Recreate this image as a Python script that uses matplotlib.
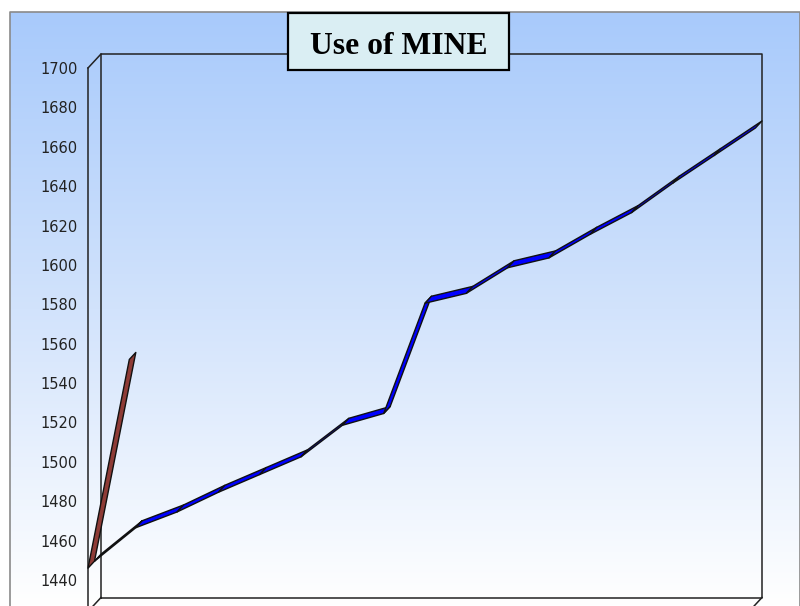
import numpy as np
import matplotlib.pyplot as plt
from matplotlib.colors import LinearSegmentedColormap
from matplotlib.patches import Rectangle

# yearly figures for the two series
mine_main = [1446, 1463, 1471, 1481, 1490, 1499, 1515, 1521, 1577,
             1582, 1595, 1600, 1612, 1623, 1638, 1652, 1666]
mine_other = [1446, 1552]
y_ticks = list(range(1440, 1701, 20))
chart_title = 'Use of MINE'

y_low, y_high = 1424, 1700
n_cat = len(mine_main)

fig = plt.figure(figsize=(8, 6.06), dpi=100)

# blue-to-white chart area fill
bg = fig.add_axes([10 / 800, 0, 790 / 800, 594 / 606])
grad = np.linspace(0, 1, 256).reshape(-1, 1)
cmap = LinearSegmentedColormap.from_list('area', ['#A8CAFB', '#D2E3FC', '#FFFFFF'])
bg.imshow(grad, aspect='auto', cmap=cmap, extent=[0, 1, 0, 1], origin='upper')
bg.plot([0, 0, 1, 1], [0, 1, 1, 0], transform=bg.transAxes,
        color='#8a8a8a', lw=1.2, clip_on=False)
bg.set_axis_off()

# front plane of the 3-d box
ax = fig.add_axes([88 / 800, -5.5 / 606, 661 / 800, 543.5 / 606])
ax.patch.set_visible(False)
ax.set_xlim(0, n_cat - 1)
ax.set_ylim(y_low, y_high)
for s in ax.spines.values():
    s.set_visible(False)
ax.set_xticks([])
ax.set_yticks(y_ticks)
ax.tick_params(axis='y', length=0, pad=7.5, labelsize=10.5, labelcolor='#222222')


def depth(frac):
    """Box depth (13px right, 14px up) scaled by frac, in data units."""
    p0 = ax.transData.transform((0, 1500))
    p1 = ax.transData.inverted().transform(p0 + np.array([13 * frac, 14 * frac]))
    return p1[0], p1[1] - 1500


dx, dy = depth(1.0)
xl, xr = 0, n_cat - 1
frame = dict(color='#222222', lw=1.1, clip_on=False)

# back wall
ax.plot(np.array([xl, xr, xr, xl, xl]) + dx,
        np.array([y_low, y_low, y_high, y_high, y_low]) + dy, **frame)
# front axis line and depth edges
ax.plot([xl, xl], [y_low, y_high], **frame)
ax.plot([xl, xl + dx], [y_high, y_high + dy], **frame)
ax.plot([xl, xl + dx], [y_low, y_low + dy], **frame)
ax.plot([xr, xr + dx], [y_low, y_low + dy], **frame)
ax.plot([xl, xr], [y_low, y_low], **frame)


def ribbon(vals, f1, f2, color):
    ax1, ay1 = depth(f1)
    ax2, ay2 = depth(f2)
    for i in range(len(vals) - 1):
        xs = [i + ax1, i + 1 + ax1, i + 1 + ax2, i + ax2]
        ys = [vals[i] + ay1, vals[i + 1] + ay1, vals[i + 1] + ay2, vals[i] + ay2]
        ax.fill(xs, ys, facecolor=color, edgecolor='#111111', lw=1.0,
                joinstyle='round', clip_on=False, zorder=3)


ribbon(mine_main, 0.5, 1.0, '#0000FF')
ribbon(mine_other, 0.0, 0.5, '#8E3B36')

# title box
box = Rectangle((288 / 800, (606 - 70) / 606), 221 / 800, 57 / 606,
                transform=fig.transFigure, facecolor='#DAEEF3',
                edgecolor='black', lw=1.6, zorder=10)
fig.add_artist(box)
fig.text(398.5 / 800, (606 - 54) / 606, chart_title, ha='center', va='baseline',
         fontsize=22.8, fontweight='bold', family='Liberation Serif', zorder=11)

fig.savefig('out.png', dpi=100)
